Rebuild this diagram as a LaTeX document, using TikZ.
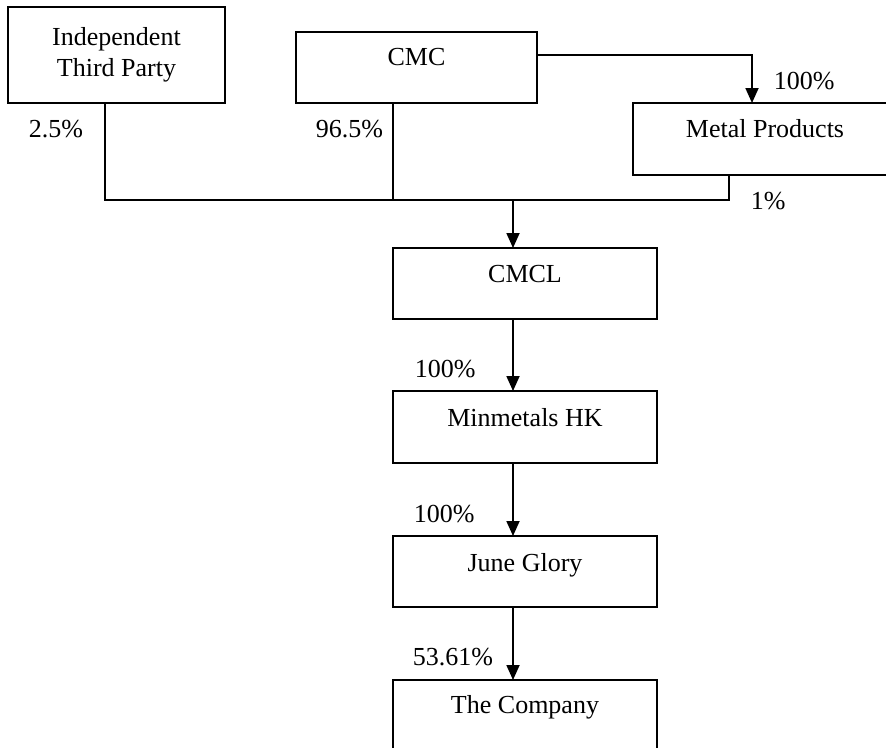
\documentclass[tikz,border=0pt]{standalone}
\usepackage{fontspec}
\setmainfont{Liberation Serif}
\usetikzlibrary{arrows.meta}
\begin{document}
\begin{tikzpicture}[x=1pt,y=-1pt,
  font=\fontsize{26}{31.5}\selectfont,
  line width=1.8pt,
  box/.style={draw, line width=1.8pt, outer sep=0pt, inner ysep=0pt, anchor=north, minimum width=264pt},
  pct/.style={anchor=base west, inner sep=0pt},
  arr/.style={-{Triangle[length=15pt,width=13pt]}}]
\useasboundingbox (0,0) rectangle (886,747);
\clip (0,0) rectangle (886,747);
% boxes
\node[box, minimum width=217pt, minimum height=96pt, align=center, inner ysep=0pt] (itp) at (116.5,7) {Independent\\Third Party};
\node[box, minimum width=241pt, text height=33pt, text depth=38pt] (cmc) at (416.5,32) {CMC};
\node[box, text height=34pt, text depth=38pt] (mp) at (765,103) {Metal Products};
\node[box, text height=34pt, text depth=37pt] (cmcl) at (525,248) {CMCL};
\node[box, text height=35pt, text depth=37pt] (mhk) at (525,391) {Minmetals HK};
\node[box, text height=35pt, text depth=36pt] (jg) at (525,536) {June Glory};
\node[box, text height=33pt, text depth=42pt] (co) at (525,680) {The Company};
% routing coordinates
\coordinate (hL) at (105,200);
\coordinate (hC) at (393,200);
\coordinate (hR) at (729,200);
\coordinate (jn) at (513,200);
\coordinate (cx) at (752,55);
% connectors
\draw (itp.south -| hL) -- (hL) -- (hR) -- (mp.south -| hR);
\draw (cmc.south -| hC) -- (hC);
\draw[arr] (jn) -- (cmcl.north -| jn);
\draw[arr] (cmc.east |- cx) -- (cx) -- (mp.north -| cx);
\draw[arr] (cmcl.south -| jn) -- (mhk.north -| jn);
\draw[arr] (mhk.south -| jn) -- (jg.north -| jn);
\draw[arr] (jg.south -| jn) -- (co.north -| jn);
% percentages
\node[pct] (p1) at (773,89) {100\%};
\node[pct] (p2) at (750,209) {1\%};
\node[pct] (p3) at (28,137) {2.5\%};
\node[pct] (p4) at (315,137) {96.5\%};
\node[pct] (p5) at (414,377) {100\%};
\node[pct] (p6) at (413,522) {100\%};
\node[pct] (p7) at (412,665) {53.61\%};
\end{tikzpicture}
\end{document}
